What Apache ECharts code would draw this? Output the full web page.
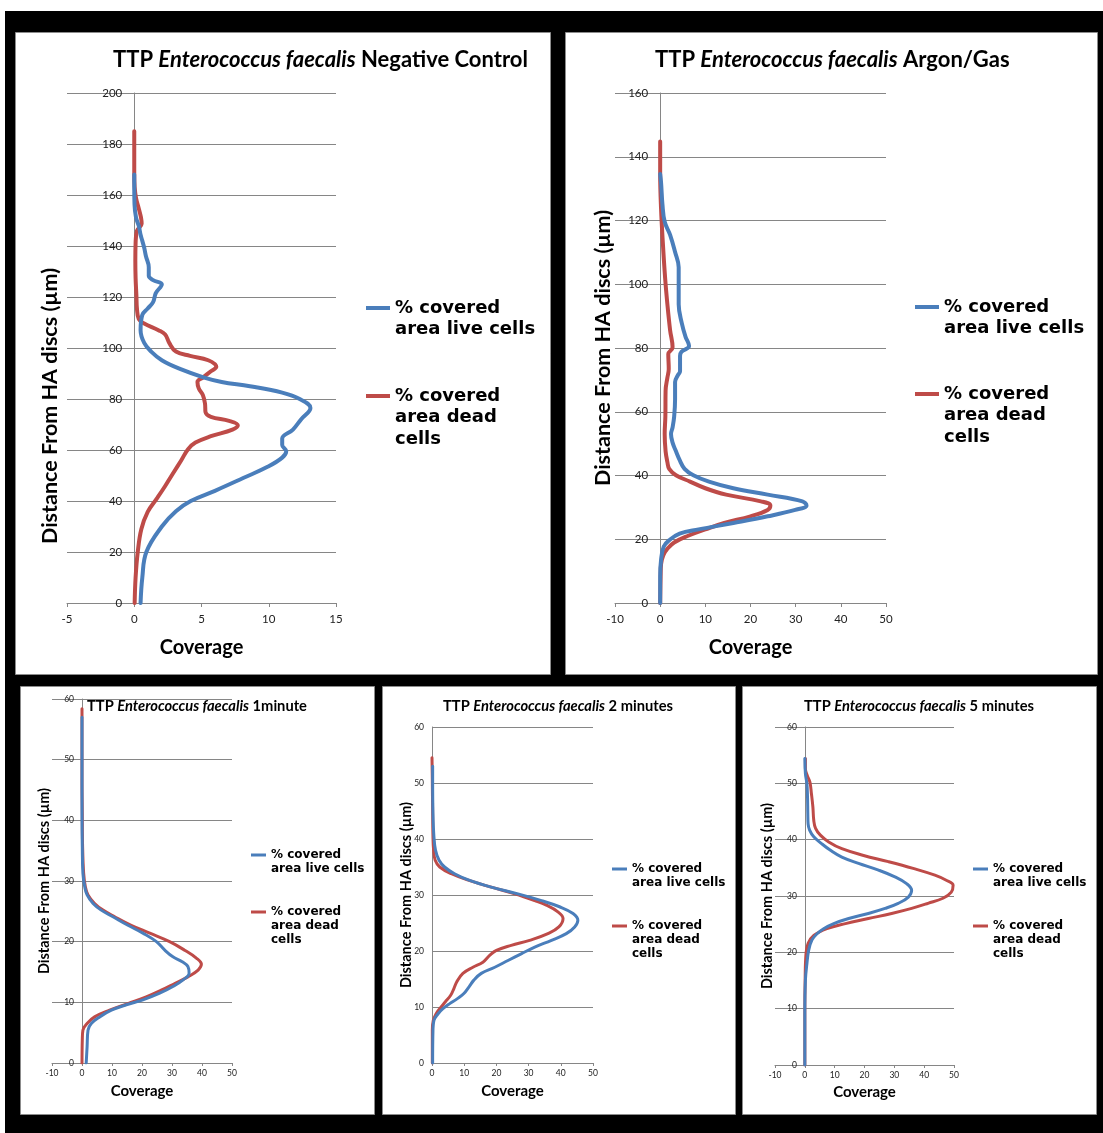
<!DOCTYPE html>
<html>
<head>
<meta charset="utf-8">
<script src="https://cdn.jsdelivr.net/npm/echarts@6/dist/echarts.min.js"></script>
<style>
html, body { margin: 0; padding: 0; background: #fff; }
#chart { width: 1103px; height: 1133px; }
</style>
</head>
<body>
<div id="chart"></div>
<script>
// ---- Depth profiles: distance from HA disc (µm) vs % covered area ----

// Negative control
const negLiveDist = [0, 10, 20, 30, 36, 40, 44, 49, 53.5, 57, 59.5, 62, 64.5, 68, 72, 76.5, 80, 82.5, 85, 86.7, 88.4, 91.8, 95.2, 98.6, 102, 107, 113, 115.5, 118, 121.5, 125, 126.6, 128.3, 131.7, 136, 139.3, 142, 144.4, 147.8, 151.2, 156.3, 163, 168];
const negLiveCov  = [0.47, 0.6, 0.9, 2.05, 3.1, 4.2, 6.0, 8.1, 9.95, 11.0, 11.3, 11.0, 11.0, 11.8, 12.4, 13.1, 12.3, 11.0, 8.6, 6.5, 5.2, 3.4, 2.05, 1.26, 0.74, 0.47, 0.6, 1.0, 1.4, 1.6, 2.05, 1.4, 1.08, 1.08, 0.87, 0.74, 0.6, 0.47, 0.34, 0.13, 0.02, 0, 0];
const negDeadDist = [0, 10, 20, 29, 35.7, 40.8, 45.9, 51, 56, 60.3, 62.9, 65.4, 68, 69.7, 71.4, 73, 74.8, 78.2, 81.6, 84.1, 86.7, 88.4, 90.9, 92.6, 95.2, 96.9, 98.6, 102, 105.3, 107, 109.6, 111.3, 115.5, 120.6, 127.4, 134.2, 141, 146, 148.7, 151.2, 154.6, 158.9, 163.1, 168.2, 185];
const negDeadCov  = [0.03, 0.1, 0.26, 0.53, 1.0, 1.66, 2.3, 2.9, 3.5, 4.0, 4.55, 5.7, 7.3, 7.7, 7.05, 5.7, 5.3, 5.26, 5.1, 4.8, 4.7, 5.1, 5.7, 6.1, 5.5, 4.15, 3.1, 2.6, 2.3, 1.8, 0.74, 0.34, 0.2, 0.16, 0.1, 0.08, 0.1, 0.2, 0.55, 0.5, 0.34, 0.13, 0.03, 0, 0];

// Argon/Gas
const argLiveDist = [0, 8.2, 13.6, 17.7, 19.7, 21.8, 23.1, 25.1, 27.2, 29.2, 30.6, 31.9, 34, 36, 38.1, 40.1, 42.1, 44.9, 47.6, 50.3, 53, 55.1, 58.5, 63.9, 69.3, 71.4, 72.7, 77.5, 78.8, 80.6, 83.6, 87.7, 93.7, 99.2, 105.3, 110.1, 115.5, 119.6, 125.1, 131.9, 134.6];
const argLiveCov  = [0, 0, 0.2, 0.8, 2.0, 4.3, 8.5, 16.2, 23.8, 29.9, 32.4, 31.5, 23.8, 16.2, 10.8, 7.35, 5.4, 4.3, 3.5, 2.75, 2.4, 2.75, 3.1, 3.3, 3.3, 3.9, 4.4, 4.4, 4.7, 6.4, 5.6, 4.8, 4.1, 4.1, 4.1, 3.3, 2.2, 1.0, 0.5, 0.2, 0];
const argDeadDist = [0, 8.2, 12.2, 15, 17, 19, 21.1, 23.1, 25.1, 27.2, 29.2, 30.6, 31.9, 34, 36, 38.1, 40.1, 42.1, 44.2, 47.6, 53, 58.5, 66.6, 70.7, 73.4, 78.1, 80.2, 85.6, 93.7, 101.9, 112.8, 123.6, 134.6, 144.8];
const argDeadCov  = [0, 0.1, 0.2, 0.7, 1.6, 3.1, 6.2, 10, 14.2, 20, 23.8, 24.4, 22.3, 14.6, 10, 6.6, 3.5, 2.0, 1.6, 1.2, 1.0, 1.15, 1.2, 1.6, 1.9, 1.8, 2.75, 2.2, 1.6, 1.1, 0.6, 0.2, 0, 0];

// 1 minute
const m1LiveDist = [0, 2.7, 5.4, 6.5, 7.6, 8.7, 9.6, 10.4, 11.5, 12.6, 13.7, 14.8, 15.9, 16.7, 17.5, 18.6, 20, 21.4, 22.7, 24.1, 25.2, 26.3, 27.7, 29.1, 31.3, 35.7, 41.2, 46.7, 52.2, 57];
const m1LiveCov  = [1.4, 1.7, 2.0, 3.1, 5.9, 9.8, 14.8, 20.3, 25.9, 30.3, 33.7, 35.7, 35.3, 33.4, 30.3, 27.6, 24.8, 20.3, 15.3, 10.3, 6.4, 3.7, 1.7, 0.9, 0.3, 0.1, 0, 0, 0, 0];
const m1DeadDist = [0, 3.8, 5.4, 6.5, 7.6, 8.7, 9.8, 10.9, 12, 13.1, 14.2, 15.3, 16.3, 17.3, 18.6, 20, 21.4, 22.7, 24.1, 25.2, 26.3, 27.7, 29.1, 31.3, 35.7, 41.2, 46.7, 58.4];
const m1DeadCov  = [0, 0.1, 0.3, 1.7, 4.2, 9.2, 15.3, 21.4, 26.4, 30.9, 35.3, 38.7, 39.8, 38.1, 34.2, 29.2, 22.6, 16.4, 10.9, 7.0, 4.2, 2.0, 1.1, 0.55, 0.2, 0.1, 0, 0];

// 2 minutes
const m2LiveDist = [0, 5.8, 7.6, 8.8, 9.7, 10.6, 11.5, 12.4, 13.6, 14.8, 16, 17.1, 18.3, 19.5, 20.7, 21.9, 23.1, 24.3, 25.5, 26.7, 27.9, 29, 30.2, 31.4, 32.6, 33.8, 35, 36.2, 38, 40.4, 44.5, 50.5, 53];
const m2LiveCov  = [0.2, 0.3, 0.6, 1.9, 3.4, 5.5, 7.9, 9.9, 11.5, 13.0, 15.3, 19.5, 23.6, 27.7, 31.9, 37.1, 41.7, 44.3, 45.3, 43.8, 39.6, 34, 26.7, 18.4, 11.7, 7.0, 3.9, 2.2, 1.1, 0.6, 0.3, 0.2, 0.2];
const m2DeadDist = [0, 5.8, 7.6, 8.8, 9.7, 10.9, 12.1, 13.3, 14.5, 16, 17.1, 18, 19.2, 20.1, 21, 21.9, 23.1, 24.3, 25.8, 27, 28.2, 29, 30.2, 31.4, 32.6, 33.8, 35, 36.2, 38, 40.4, 44.5, 50.5, 54.5];
const m2DeadCov  = [0.1, 0.1, 0.4, 1.3, 2.4, 4.1, 5.8, 6.8, 7.7, 9.6, 12.7, 15.8, 17.9, 20.0, 24.6, 30.3, 36, 39.4, 40.7, 39.1, 35.5, 31.9, 25.7, 18.4, 11.5, 6.0, 2.4, 1.0, 0.5, 0.3, 0.2, 0.1, 0];

// 5 minutes
const m5LiveDist = [0, 9.2, 15.1, 18, 20.4, 22.2, 23.3, 24.2, 25.1, 26, 26.9, 27.8, 28.7, 29.8, 31, 32.2, 33.4, 34.6, 35.8, 36.9, 38.1, 39.3, 40.5, 41.7, 42.8, 44.6, 47.6, 49.9, 51.7, 54.4];
const m5LiveCov  = [0, 0, 0.2, 0.7, 1.3, 2.4, 4.1, 6.3, 9.7, 14.7, 21.3, 26.9, 31.3, 34.7, 35.8, 34.1, 30.2, 24.7, 18, 12.4, 8.6, 5.6, 3.0, 1.6, 1.1, 1.0, 0.9, 0.7, 0.2, 0];
const m5DeadDist = [0, 9.2, 15.1, 19.8, 21.6, 23, 24.2, 25.1, 26, 26.9, 27.8, 28.7, 29.6, 30.7, 31.9, 32.8, 33.7, 34.9, 36.1, 37.2, 38.4, 39.6, 40.8, 42, 43.4, 45.8, 48.2, 50.2, 51.4, 52.6, 54.4];
const m5DeadCov  = [0, 0, 0.1, 0.4, 1.1, 3.0, 7.4, 13.6, 21.3, 29.1, 35.8, 41.3, 46.3, 49.1, 49.7, 47.4, 43.6, 36.3, 28, 19.7, 12.4, 8, 5.2, 3.6, 3.0, 2.7, 2.2, 1.7, 0.8, 0.2, 0.2];

// Axis ranges: [min, max, interval]
const negXRange = [-5, 15, 5],   negYRange = [0, 200, 20];
const argXRange = [-10, 50, 10], argYRange = [0, 160, 20];
const m1XRange  = [-10, 50, 10], m1YRange  = [0, 60, 10];
const m2XRange  = [0, 50, 10],   m2YRange  = [0, 60, 10];
const m5XRange  = [-10, 50, 10], m5YRange  = [0, 60, 10];

const titleSuffixes = ['Negative Control', 'Argon/Gas', '1minute', '2 minutes', '5 minutes'];
const LIVE = '% covered\narea live cells';
const DEAD = '% covered\narea dead\ncells';
const X_NAME = 'Coverage';
const Y_NAME = 'Distance From HA discs (\u00b5m)';

// ---- Styling ----
const BLUE = '#4A7EBB', RED = '#BE4B48', GRIDC = '#868686';
const SANS = 'Lato';
const HEAVY = 'DejaVu Sans';

// Panel layout (pixel boxes) and per-panel spacing
const panels = [
  { live: [negLiveCov, negLiveDist], dead: [negDeadCov, negDeadDist], xr: negXRange, yr: negYRange,
    box: [15, 32, 536, 643], grid: [67, 93, 269, 510], big: true,
    title: [113, 60], legend: { x: 366, live: 308, dead: 396 }, yGap: 73, yShift: 58, xGap: 35 },
  { live: [argLiveCov, argLiveDist], dead: [argDeadCov, argDeadDist], xr: argXRange, yr: argYRange,
    box: [565, 32, 533, 643], grid: [615, 93, 271, 510], big: true,
    title: [655, 60], legend: { x: 915, live: 307, dead: 394 }, yGap: 46, yShift: 0, xGap: 35 },
  { live: [m1LiveCov, m1LiveDist], dead: [m1DeadCov, m1DeadDist], xr: m1XRange, yr: m1YRange,
    box: [20, 686, 355, 429], grid: [52, 699, 180, 364], big: false,
    title: [87, 706], legend: { x: 251, live: 855, dead: 912 }, yGap: 30, yShift: 0, xGap: 21 },
  { live: [m2LiveCov, m2LiveDist], dead: [m2DeadCov, m2DeadDist], xr: m2XRange, yr: m2YRange,
    box: [382, 686, 354, 429], grid: [432, 727, 161, 336], big: false,
    title: [443, 706], legend: { x: 612, live: 869, dead: 926 }, yGap: 18, yShift: 0, xGap: 21 },
  { live: [m5LiveCov, m5LiveDist], dead: [m5DeadCov, m5DeadDist], xr: m5XRange, yr: m5YRange,
    box: [742, 686, 355, 429], grid: [775, 727, 179, 338], big: false,
    title: [804, 706], legend: { x: 973, live: 869, dead: 926 }, yGap: 30, yShift: 0, xGap: 20 }
];

const pairs = (xs, ys) => ys.map((y, i) => [xs[i], y]);

const graphic = [
  { type: 'rect', z: -10, shape: { x: 5, y: 11, width: 1098, height: 1122 }, style: { fill: '#000' } }
];
const title = [], grid = [], xAxis = [], yAxis = [], series = [], legend = [];

panels.forEach((p, i) => {
  const s = p.big;
  graphic.push({ type: 'rect', z: -9,
    shape: { x: p.box[0] + 0.5, y: p.box[1] + 0.5, width: p.box[2] - 1, height: p.box[3] - 1 },
    style: { fill: '#fff', stroke: '#8c8c8c', lineWidth: 1 } });

  const tSize = s ? 22 : 14.7, tLH = s ? 26 : 18;
  title.push({
    left: p.title[0], top: p.title[1] - tLH / 2, padding: 0,
    text: '{n|TTP }{i|Enterococcus faecalis}{n| ' + titleSuffixes[i] + '}',
    textStyle: { rich: {
      n: { fontFamily: SANS, fontWeight: 'bold', fontSize: tSize, lineHeight: tLH, color: '#000' },
      i: { fontFamily: SANS, fontWeight: 'bold', fontStyle: 'italic', fontSize: tSize, lineHeight: tLH, color: '#000' }
    } }
  });

  grid.push({ left: p.grid[0], top: p.grid[1], width: p.grid[2], height: p.grid[3],
    containLabel: false, outerBoundsMode: 'none' });

  // vertical axis sits on coverage = 0
  const zeroOffset = (0 - p.xr[0]) / (p.xr[1] - p.xr[0]) * p.grid[2];

  const tickFont = s ? 11.5 : 8.5;
  const nameFont = s ? 20 : 15;
  const yNameFont = s ? 21.5 : 14.5;
  xAxis.push({
    gridIndex: i, type: 'value', min: p.xr[0], max: p.xr[1], interval: p.xr[2],
    name: X_NAME, nameLocation: 'middle', nameGap: p.xGap, nameMoveOverlap: false,
    nameTextStyle: { fontFamily: SANS, fontWeight: 'bold', fontSize: nameFont, color: '#000' },
    axisLine: { show: true, onZero: false, lineStyle: { color: GRIDC, width: 1 } },
    axisTick: { show: true, length: s ? 4 : 3, lineStyle: { color: GRIDC } },
    axisLabel: { fontFamily: SANS, fontSize: tickFont, color: '#222', margin: s ? 10 : 6 },
    splitLine: { show: false }
  });
  yAxis.push({
    gridIndex: i, type: 'value', min: p.yr[0], max: p.yr[1], interval: p.yr[2],
    offset: -zeroOffset,
    name: Y_NAME, nameLocation: 'middle', nameGap: p.yGap, nameMoveOverlap: false,
    nameTextStyle: { fontFamily: SANS, fontWeight: 'bold', fontSize: yNameFont, color: '#000',
      padding: [0, p.yShift * 2, 0, 0] },
    axisLine: { show: true, onZero: false, lineStyle: { color: GRIDC, width: 1 } },
    axisTick: { show: false },
    axisLabel: { fontFamily: SANS, fontSize: tickFont, color: '#222', margin: s ? 12 : 8 },
    splitLine: { show: true, lineStyle: { color: GRIDC, width: 1 } }
  });

  const lw = s ? 4 : 3;
  series.push({
    name: LIVE, type: 'line', xAxisIndex: i, yAxisIndex: i, smooth: 0.4, symbol: 'none',
    lineStyle: { color: BLUE, width: lw, cap: 'round', join: 'round' }, itemStyle: { color: BLUE },
    data: pairs(p.live[0], p.live[1]), z: 3
  });
  series.push({
    name: DEAD, type: 'line', xAxisIndex: i, yAxisIndex: i, smooth: 0.4, symbol: 'none',
    lineStyle: { color: RED, width: lw, cap: 'round', join: 'round' }, itemStyle: { color: RED },
    data: pairs(p.dead[0], p.dead[1]), z: 2
  });

  // Legend: leading blank lines keep the swatch level with the first text line
  const lFont = s ? 18 : 12, lLH = s ? 21.5 : 14;
  const iw = s ? 24 : 15, ih = s ? 4 : 3;
  [[LIVE, p.legend.live, 2], [DEAD, p.legend.dead, 3]].forEach(([nm, cy, n]) => {
    legend.push({
      left: p.legend.x, top: cy - (2 * n - 1) * lLH / 2, padding: 0, orient: 'vertical',
      icon: 'rect', itemWidth: iw, itemHeight: ih, selectedMode: false,
      formatter: (name) => '\n'.repeat(n - 1) + name,
      data: [{ name: nm, itemStyle: { color: nm === LIVE ? BLUE : RED } }],
      textStyle: { fontFamily: HEAVY, fontWeight: 'bold', fontSize: lFont, lineHeight: lLH, color: '#000' }
    });
  });
});

const chart = echarts.init(document.getElementById('chart'), null, { renderer: 'canvas' });
chart.setOption({
  backgroundColor: '#fff',
  animation: false,
  graphic: graphic,
  title: title,
  grid: grid,
  xAxis: xAxis,
  yAxis: yAxis,
  legend: legend,
  series: series
});
</script>
</body>
</html>
